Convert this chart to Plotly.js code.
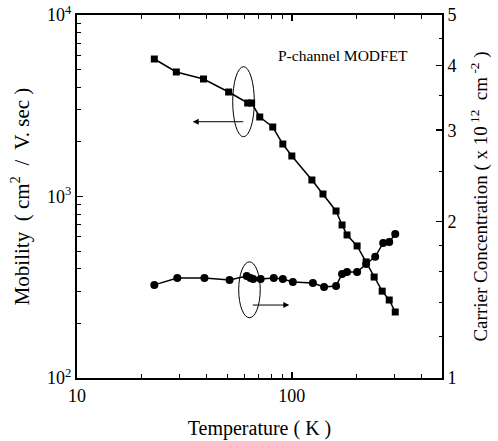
<!DOCTYPE html>
<html><head><meta charset="utf-8">
<script src="https://cdn.plot.ly/plotly-3.0.1.min.js"></script>
<style>body{margin:0;background:#fff}#chart{width:498px;height:441px}</style>
</head><body><div id="chart"></div>
<script>
// Mobility (left axis, squares)
const tempMobility = [22.9, 29.0, 38.8, 50.8, 62.3, 65.0, 70.9, 81.5, 90.8, 100, 124, 139.6, 160.6, 171.3, 180.7, 201.3, 221.8, 241.6, 263.4, 284, 302.9];
const mobility = [5722, 4853, 4440, 3764, 3274, 3274, 2742, 2415, 1946, 1672, 1233, 1032, 832, 697, 614, 534, 436, 360, 301, 269, 231];
// Carrier concentration (right axis, circles), x 10^12 cm^-2
const tempCarrier = [22.9, 29.3, 39.2, 51.3, 61.7, 64.2, 66.1, 71.6, 82.4, 90.8, 101.1, 125.3, 141.3, 160.6, 171.3, 180.7, 201.3, 221.8, 244.3, 266.2, 284, 302.9];
const carrier = [1.511, 1.558, 1.558, 1.545, 1.572, 1.558, 1.551, 1.551, 1.558, 1.551, 1.531, 1.524, 1.497, 1.504, 1.586, 1.600, 1.600, 1.658, 1.711, 1.820, 1.828, 1.894];

const xTicks = [10, 100];
const xTickText = ['10', '100'];
const xMinor = [20,30,40,50,60,70,80,90,200,300,400];
const yTicks = [100, 1000, 10000];
const yTickText = ['10<sup>2</sup>', '10<sup>3</sup>', '10<sup>4</sup>'];
const yMinor = [200,300,400,500,600,700,800,900,2000,3000,4000,5000,6000,7000,8000,9000];
const y2Ticks = [1, 2, 3, 4, 5];
const y2TickText = ['1', '2', '3', '4', '5'];
const y2Minor = [1.2,1.4,1.6,1.8,2.5,3.5,4.5];

const serif = 'Liberation Serif, Times New Roman, serif';

const traces = [
  {x: tempMobility, y: mobility, type: 'scatter', mode: 'lines+markers',
   line: {color: '#000', width: 1.5}, marker: {symbol: 'square', size: 7, color: '#000'},
   yaxis: 'y', showlegend: false},
  {x: tempCarrier, y: carrier, type: 'scatter', mode: 'lines+markers',
   line: {color: '#000', width: 1.5}, marker: {symbol: 'circle', size: 8, color: '#000'},
   yaxis: 'y2', showlegend: false}
];

const axisCommon = {
  showgrid: false, zeroline: false, showline: true, linecolor: '#000', linewidth: 2,
  ticks: 'inside', ticklen: 6, tickwidth: 1.5, tickcolor: '#000',
  tickfont: {family: serif, size: 18, color: '#000'}
};

const layout = {
  width: 498, height: 441,
  margin: {l: 77, r: 56, t: 15, b: 63},
  paper_bgcolor: '#fff', plot_bgcolor: '#fff',
  xaxis: Object.assign({}, axisCommon, {
    type: 'log', range: [1, Math.log10(500)], mirror: 'ticks',
    tickmode: 'array', tickvals: xTicks, ticktext: xTickText,
    minor: {tickmode: 'array', tickvals: xMinor, ticks: 'inside', ticklen: 4, tickwidth: 1, tickcolor: '#000'},
    title: {text: 'Temperature ( K )', font: {family: serif, size: 20, color: '#000'}, standoff: 16}
  }),
  yaxis: Object.assign({}, axisCommon, {
    type: 'log', range: [2, 4],
    tickmode: 'array', tickvals: yTicks, ticktext: yTickText,
    minor: {tickmode: 'array', tickvals: yMinor, ticks: 'inside', ticklen: 4, tickwidth: 1, tickcolor: '#000'},
    title: {text: 'Mobility  ( cm<sup>2</sup>  /  V. sec )', font: {family: serif, size: 21, color: '#000'}, standoff: 12}
  }),
  yaxis2: Object.assign({}, axisCommon, {
    type: 'log', range: [0, Math.log10(5)], overlaying: 'y', side: 'right',
    tickmode: 'array', tickvals: y2Ticks, ticktext: y2TickText,
    minor: {tickmode: 'array', tickvals: y2Minor, ticks: 'inside', ticklen: 3, tickwidth: 1, tickcolor: '#000'},
    title: {text: 'Carrier Concentration ( x 10<sup> 12</sup>  cm<sup> -2</sup> )', font: {family: serif, size: 19, color: '#000'}, standoff: 18}
  }),
  shapes: [
    {type: 'circle', xref: 'paper', yref: 'paper', x0: 0.4266, x1: 0.4858, y0: 0.6647, y1: 0.8576,
     line: {color: '#000', width: 1}},
    {type: 'circle', xref: 'paper', yref: 'paper', x0: 0.443, x1: 0.502, y0: 0.166, y1: 0.320,
     line: {color: '#000', width: 1}}
  ],
  annotations: [
    {xref: 'paper', yref: 'paper', x: 0.317, y: 0.706, ax: 52, ay: 0, text: '',
     showarrow: true, arrowhead: 2, arrowsize: 1.2, arrowwidth: 1, arrowcolor: '#000'},
    {xref: 'paper', yref: 'paper', x: 0.5816, y: 0.201, ax: -38, ay: 0, text: '',
     showarrow: true, arrowhead: 2, arrowsize: 1.2, arrowwidth: 1, arrowcolor: '#000'},
    {xref: 'paper', yref: 'paper', x: 0.729, y: 0.889, text: 'P-channel MODFET', showarrow: false,
     xanchor: 'center', yanchor: 'middle', font: {family: serif, size: 15.5, color: '#000'}}
  ]
};

Plotly.newPlot('chart', traces, layout, {displayModeBar: false, staticPlot: true});
</script>
</body></html>
